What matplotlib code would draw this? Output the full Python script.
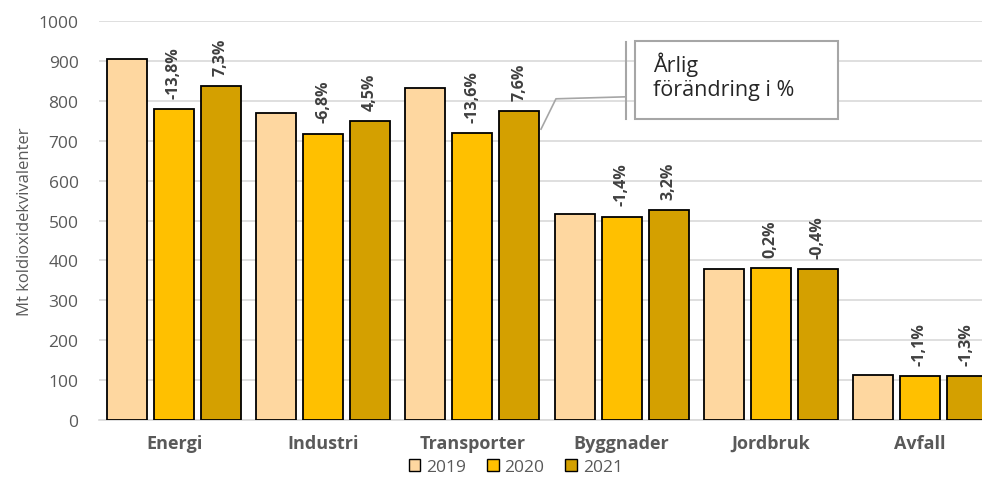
import matplotlib
matplotlib.use("Agg")
import matplotlib.pyplot as plt
from matplotlib.patches import Rectangle
import numpy as np

plt.rcParams['font.family'] = ['Open Sans', 'DejaVu Sans']

categories = ["Energi", "Industri", "Transporter", "Byggnader", "Jordbruk", "Avfall"]
years = ["2019", "2020", "2021"]
v2019 = [905, 770, 833, 517, 379, 113]
v2020 = [780, 718, 720, 510, 381, 111]
v2021 = [837, 750, 775, 527, 379, 110]
lab2020 = ["-13,8%", "-6,8%", "-13,6%", "-1,4%", "0,2%", "-1,1%"]
lab2021 = ["7,3%", "4,5%", "7,6%", "3,2%", "-0,4%", "-1,3%"]
colors = ["#FED7A0", "#FFC000", "#D4A000"]

W, H = 982, 481
fig = plt.figure(figsize=(W / 100, H / 100), dpi=100)
left, right, bottom, top = 99.4, 994.6, 421, 22
ax = fig.add_axes([left / W, 1 - bottom / H, (right - left) / W, (bottom - top) / H])

x = np.arange(len(categories))
bw = 0.268
off = 0.315
series = [v2019, v2020, v2021]
bars = []
for i, (vals, col, yr) in enumerate(zip(series, colors, years)):
    b = ax.bar(x + (i - 1) * off, vals, bw, color=col, edgecolor="black", linewidth=1.3, label=yr, zorder=3)
    bars.append(b)

for b, labs in ((bars[1], lab2020), (bars[2], lab2021)):
    for rect, lab in zip(b, labs):
        ax.annotate(lab, (rect.get_x() + rect.get_width() / 2, rect.get_height()),
                    xytext=(0, 8), textcoords="offset points", rotation=90,
                    ha="center", va="bottom", fontsize=11.5, fontweight="bold", color="#404040")

ax.set_xlim(-0.5, len(categories) - 0.5)
ax.set_ylim(0, 1000)
ax.set_yticks(np.arange(0, 1001, 100))
ax.yaxis.grid(True, color="#d9d9d9", linewidth=1.2, zorder=0)
ax.set_axisbelow(True)
for s in ["left", "right", "top"]:
    ax.spines[s].set_visible(False)
ax.spines["bottom"].set_color("#d9d9d9")
ax.spines["bottom"].set_linewidth(1.2)
ax.tick_params(axis="y", length=0, labelsize=12.5, labelcolor="#595959", pad=15)
ax.tick_params(axis="x", length=0, labelsize=13, labelcolor="#595959", pad=10)
ax.set_xticks(x)
ax.set_xticklabels(categories, fontweight="bold")
ax.set_ylabel("Mt koldioxidekvivalenter", fontsize=12, color="#595959", labelpad=4)

# callout
ax.add_patch(Rectangle((3.09, 754), 1.36, 196, facecolor="white", edgecolor="#a6a6a6",
                       linewidth=1.5, zorder=4, clip_on=False))
ax.plot([3.03, 3.03], [755, 948], color="#a6a6a6", linewidth=1.5, zorder=4)
ax.plot([2.46, 2.56, 3.03], [729, 805, 810], color="#a6a6a6", linewidth=1.2, zorder=4)
ax.text(3.21, 862, "Årlig\nförändring i %", fontsize=15.5, color="#262626", ha="left", va="center",
        linespacing=1.2, zorder=5)

leg = fig.legend(loc="center", bbox_to_anchor=(516 / W, 1 - 468 / H), ncol=3, frameon=False,
                 fontsize=12.5, handlelength=0.65, handleheight=0.65, handletextpad=0.35,
                 columnspacing=1.2, labelcolor="#595959")
for h in leg.legend_handles:
    h.set_linewidth(1.0)

fig.savefig("out.png", dpi=100)
